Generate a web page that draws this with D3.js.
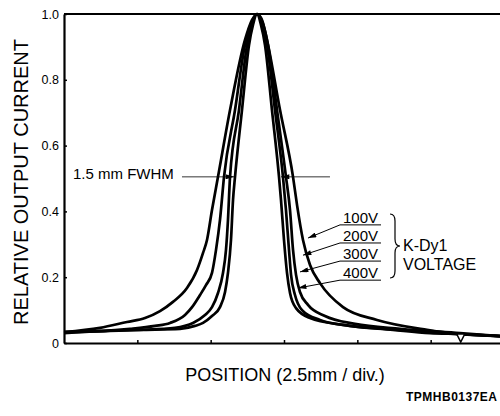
<!DOCTYPE html>
<html><head><meta charset="utf-8">
<script src="https://cdn.jsdelivr.net/npm/d3@7/dist/d3.min.js"></script>
<style>
html,body{margin:0;padding:0;background:#fff;}
svg{display:block;}
text{font-family:"Liberation Sans",Arial,Helvetica,sans-serif;fill:#000;}
</style></head>
<body>
<svg id="chart" width="500" height="416"></svg>
<script>
// ---- data (position in divisions, relative output current) ----
const series = ["100V", "200V", "300V", "400V"];
const pos100 = [0,0.491,0.859,1.105,1.309,1.486,1.677,1.814,1.896,1.950,2.018,2.100,2.264,2.468,2.564,2.632,2.700,2.768,2.946,3.123,3.178,3.259,3.355,3.491,3.805,4.268,4.950,5.400,5.946];
const val100 = [0.033,0.046,0.064,0.076,0.097,0.125,0.167,0.222,0.274,0.313,0.404,0.505,0.708,0.921,0.982,1.0,0.982,0.921,0.708,0.505,0.419,0.313,0.237,0.182,0.109,0.070,0.040,0.027,0.021];
const pos200 = [0,0.491,0.900,1.241,1.446,1.650,1.746,1.855,1.936,2.018,2.073,2.127,2.182,2.332,2.468,2.550,2.632,2.714,2.782,2.905,3.027,3.082,3.123,3.164,3.218,3.327,3.559,3.968,4.582,5.400,5.946];
const val200 = [0.033,0.036,0.043,0.052,0.061,0.085,0.109,0.146,0.176,0.213,0.283,0.374,0.505,0.708,0.906,0.970,1.0,0.970,0.906,0.708,0.505,0.404,0.283,0.207,0.155,0.116,0.082,0.058,0.043,0.030,0.021];
const pos300 = [0,0.491,1.036,1.514,1.650,1.759,1.923,2.018,2.100,2.168,2.209,2.236,2.264,2.386,2.496,2.564,2.632,2.700,2.768,2.877,2.986,3.027,3.068,3.096,3.150,3.246,3.491,3.900,4.582,5.400,5.946];
const val300 = [0.033,0.036,0.040,0.046,0.052,0.061,0.085,0.109,0.152,0.213,0.283,0.374,0.505,0.708,0.906,0.970,1.0,0.970,0.906,0.708,0.505,0.404,0.283,0.207,0.146,0.100,0.070,0.052,0.040,0.027,0.021];
const pos400 = [0,0.491,1.036,1.582,1.786,1.896,2.018,2.127,2.196,2.236,2.277,2.305,2.332,2.427,2.523,2.577,2.632,2.686,2.741,2.836,2.932,2.959,3.000,3.041,3.082,3.164,3.355,3.805,4.487,4.991,5.400,5.946];
const val400 = [0.030,0.036,0.040,0.043,0.052,0.061,0.082,0.109,0.155,0.213,0.313,0.435,0.505,0.708,0.906,0.967,1.0,0.967,0.906,0.708,0.505,0.435,0.313,0.213,0.152,0.106,0.076,0.055,0.040,0.030,0.027,0.021];

const yTicks = [0, 0.2, 0.4, 0.6, 0.8, 1.0];
const yTickLabels = ["0", "0.2", "0.4", "0.6", "0.8", "1.0"];
const xTicks = [1, 2, 3, 4, 5, 6];

// annotation anchors (data units)
const labelTipPos = [3.327, 3.259, 3.218, 3.191];
const labelTipVal = [0.319, 0.267, 0.216, 0.167];
const labelLineVal = [0.359, 0.304, 0.249, 0.191];
const fwhmVal = 0.505;
const fwhmLeft = [1.609, 2.318];
const fwhmRight = [3.627, 2.959];
const markerPos = 5.41;

// ---- drawing ----
const svg = d3.select("#chart");
svg.append("rect").attr("width",500).attr("height",416).attr("fill","#fff");

const x = d3.scaleLinear().domain([0, 6]).range([64, 504]);
const y = d3.scaleLinear().domain([0, 1]).range([343, 14]);

const defs = svg.append("defs");
defs.append("marker").attr("id","arr").attr("viewBox","0 0 10 6")
  .attr("refX",10).attr("refY",3).attr("markerWidth",9).attr("markerHeight",5)
  .attr("markerUnits","userSpaceOnUse").attr("orient","auto")
  .append("path").attr("d","M0,0 L10,3 L0,6 Z").attr("fill","#000");

// axes
const yAxis = d3.axisLeft(y).tickValues(yTicks).tickFormat((d,i)=>yTickLabels[i])
  .tickSizeInner(-3).tickSizeOuter(0).tickPadding(5);
const gy = svg.append("g").attr("transform",`translate(${x(0)},0)`).call(yAxis);
gy.select(".domain").attr("stroke-width",2.2);
gy.selectAll(".tick line").attr("stroke-width",1.5);
gy.selectAll("text").style("font-size","12.5px").attr("fill","#000");

const xAxis = d3.axisBottom(x).tickValues(xTicks).tickFormat("")
  .tickSizeInner(-3).tickSizeOuter(0);
const gx = svg.append("g").attr("transform",`translate(0,${y(0)})`).call(xAxis);
gx.select(".domain").attr("stroke-width",2.2);
gx.selectAll(".tick line").attr("stroke-width",1.5);

svg.append("line").attr("x1",x(0)).attr("x2",x(6)).attr("y1",y(1)).attr("y2",y(1))
  .attr("stroke","#000").attr("stroke-width",2);

// curves
const line = d3.line().x(d=>x(d[0])).y(d=>y(d[1])).curve(d3.curveMonotoneX);
const allPos = [pos100, pos200, pos300, pos400];
const allVal = [val100, val200, val300, val400];
series.forEach((s,i)=>{
  const pts = allPos[i].map((p,j)=>[p, allVal[i][j]]);
  svg.append("path").datum(pts).attr("d",line)
    .attr("fill","none").attr("stroke","#000").attr("stroke-width",2.7)
    .attr("stroke-linejoin","round");
});

// small triangle marker on baseline
const mx = x(markerPos), my = y(0.027);
svg.append("path").attr("d",`M${mx-4},${my} L${mx+4},${my} L${mx},${y(0)-1} Z`)
  .attr("fill","#fff").attr("stroke","#000").attr("stroke-width",1.5);

// FWHM annotation
svg.append("text").attr("x",73).attr("y",y(fwhmVal)+2.5).style("font-size","15px").text("1.5 mm FWHM");
svg.append("line").attr("x1",x(fwhmLeft[0])).attr("x2",x(fwhmLeft[1]))
  .attr("y1",y(fwhmVal)).attr("y2",y(fwhmVal)).attr("stroke","#000").attr("stroke-width",0.8)
  .attr("marker-end","url(#arr)");
svg.append("line").attr("x1",x(fwhmRight[0])).attr("x2",x(fwhmRight[1]))
  .attr("y1",y(fwhmVal)).attr("y2",y(fwhmVal)).attr("stroke","#000").attr("stroke-width",0.8)
  .attr("marker-end","url(#arr)");

// voltage labels
const ulx0 = 340, ulx1 = 381;
series.forEach((s,i)=>{
  const ly = y(labelLineVal[i]);
  svg.append("text").attr("x",343).attr("y",ly-2).style("font-size","15px").text(s);
  svg.append("line").attr("x1",ulx0).attr("x2",ulx1).attr("y1",ly).attr("y2",ly)
    .attr("stroke","#000").attr("stroke-width",1);
  svg.append("line").attr("x1",ulx0).attr("y1",ly).attr("x2",x(labelTipPos[i])).attr("y2",y(labelTipVal[i]))
    .attr("stroke","#000").attr("stroke-width",1).attr("marker-end","url(#arr)");
});

// brace
svg.append("path").attr("d","M390,214 Q395,214 395,221 L395,239 Q395,246 400,246 Q395,246 395,253 L395,271 Q395,278 390,278")
  .attr("fill","none").attr("stroke","#000").attr("stroke-width",1.2);
svg.append("text").attr("x",403).attr("y",251).style("font-size","16px").text("K-Dy1");
svg.append("text").attr("x",403).attr("y",270).style("font-size","16px").text("VOLTAGE");

// axis titles
svg.append("text").attr("transform","translate(28,182) rotate(-90)").attr("text-anchor","middle")
  .style("font-size","20px").text("RELATIVE OUTPUT CURRENT");
svg.append("text").attr("x",285).attr("y",381).attr("text-anchor","middle")
  .style("font-size","18px").text("POSITION (2.5mm / div.)");
svg.append("text").attr("x",406).attr("y",401).style("font-size","12px").style("font-weight","bold")
  .style("letter-spacing","0.5px").text("TPMHB0137EA");
</script>
</body></html>
